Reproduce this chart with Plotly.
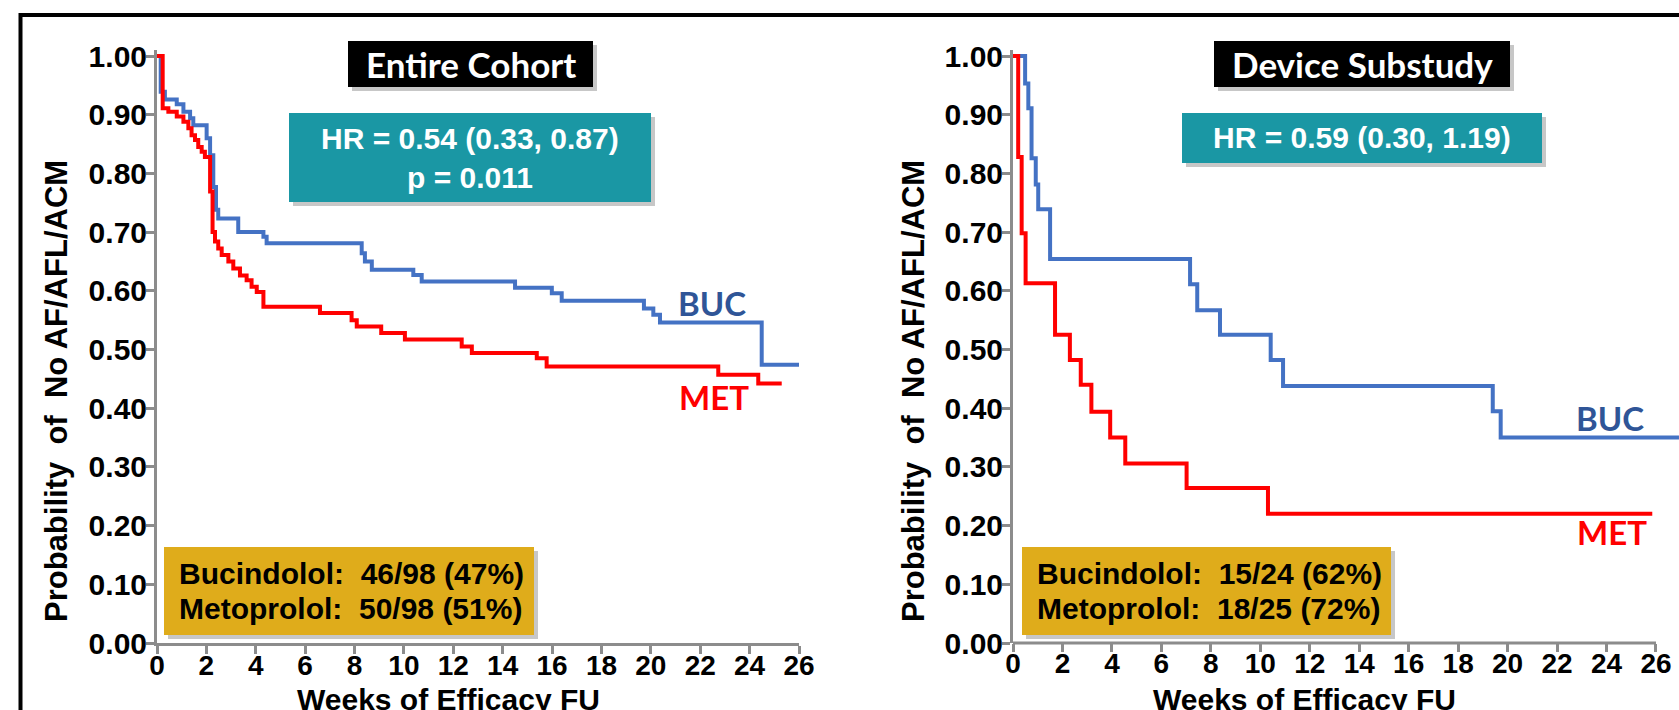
import plotly.graph_objects as go

W, H = 1679, 710

# ---------------- data ----------------
week_ticks = list(range(0, 27, 2))
prob_ticks = [0.0, 0.1, 0.2, 0.3, 0.4, 0.5, 0.6, 0.7, 0.8, 0.9, 1.0]
prob_labels = ["0.00", "0.10", "0.20", "0.30", "0.40", "0.50", "0.60", "0.70", "0.80", "0.90", "1.00"]

# Entire cohort - Bucindolol (BUC)
ec_buc_weeks = [0, 0.15, 0.32, 0.80, 1.07, 1.34, 1.47, 2.01, 2.15, 2.28, 2.39, 2.48, 3.29, 4.31, 4.44,
                8.29, 8.42, 8.70, 10.38, 10.72, 14.50, 15.99, 16.39, 19.72, 20.10, 20.37, 24.49, 26.04]
ec_buc_prob = [1.0, 0.939, 0.926, 0.918, 0.905, 0.894, 0.882, 0.860, 0.831, 0.777, 0.738, 0.723, 0.700, 0.692, 0.681,
               0.664, 0.650, 0.636, 0.627, 0.616, 0.605, 0.596, 0.583, 0.570, 0.559, 0.546, 0.474, 0.474]

# Entire cohort - Metoprolol (MET)
ec_met_weeks = [0, 0.23, 0.46, 0.80, 1.07, 1.27, 1.40, 1.54, 1.67, 1.81, 1.94, 2.15, 2.25, 2.35, 2.48, 2.62,
                2.89, 3.09, 3.36, 3.63, 3.83, 4.04, 4.31, 6.60, 7.88, 8.09, 9.08, 10.04, 12.34, 12.75, 15.38,
                15.78, 22.73, 24.35, 25.30]
ec_met_prob = [1.0, 0.911, 0.905, 0.897, 0.888, 0.877, 0.865, 0.857, 0.845, 0.837, 0.828, 0.769, 0.700, 0.684,
               0.672, 0.661, 0.650, 0.638, 0.626, 0.618, 0.607, 0.598, 0.573, 0.562, 0.550, 0.539, 0.528, 0.517,
               0.505, 0.494, 0.485, 0.471, 0.457, 0.442, 0.442]

# Device substudy - Bucindolol (BUC)
ds_buc_weeks = [0, 0.49, 0.62, 0.75, 0.92, 1.02, 1.50, 7.16, 7.45, 8.37, 10.42, 10.92, 19.40, 19.72, 26.93]
ds_buc_prob = [1.0, 0.953, 0.911, 0.826, 0.781, 0.739, 0.654, 0.611, 0.567, 0.525, 0.482, 0.438, 0.395, 0.350, 0.350]

# Device substudy - Metoprolol (MET)
ds_met_weeks = [0, 0.21, 0.35, 0.51, 1.70, 2.30, 2.74, 3.17, 3.93, 4.54, 7.02, 10.31, 25.85]
ds_met_prob = [1.0, 0.828, 0.698, 0.613, 0.525, 0.482, 0.440, 0.394, 0.350, 0.306, 0.264, 0.220, 0.220]

panel_titles = ["Entire Cohort", "Device Substudy"]
hr_lines = [["HR = 0.54 (0.33, 0.87)", "p = 0.011"], ["HR = 0.59 (0.30, 1.19)"]]
count_lines = [["Bucindolol:\u00a0 46/98 (47%)", "Metoprolol:\u00a0 50/98 (51%)"],
               ["Bucindolol:\u00a0 15/24 (62%)", "Metoprolol:\u00a0 18/25 (72%)"]]
x_title = "Weeks of Efficacy FU"
y_title = "Probability\u00a0 of\u00a0 No AF/AFL/ACM"

# ---------------- style ----------------
BLUE = "#4472c4"
BLUE_TXT = "#2f5597"
RED = "#ff0000"
GRAY = "#8c8c8c"
TEAL = "#1a97a4"
GOLD = "#dfac1b"
ARIAL = "Liberation Sans, Arial, sans-serif"
CAL = "Lato, Carlito, Calibri, sans-serif"


def px(x):
    return x / W


def py(y):
    return 1 - y / H


Y0, PX_PER_UNIT = 643.0, 587.0
YMAX = 1.01
ydom = [py(Y0), py(Y0 - YMAX * PX_PER_UNIT)]
right_x0 = 1013.0
right_px_week = 24.73
right_xmax = (W - right_x0) / right_px_week

fig = go.Figure()
for xs, ys, col, xa, ya in [
    (ec_buc_weeks, ec_buc_prob, BLUE, "x", "y"),
    (ec_met_weeks, ec_met_prob, RED, "x", "y"),
    (ds_buc_weeks, ds_buc_prob, BLUE, "x2", "y2"),
    (ds_met_weeks, ds_met_prob, RED, "x2", "y2"),
]:
    fig.add_trace(go.Scatter(x=xs, y=ys, mode="lines", xaxis=xa, yaxis=ya,
                             line=dict(color=col, width=4, shape="hv"),
                             showlegend=False, hoverinfo="skip"))

axis_common = dict(showgrid=False, zeroline=False, ticks="outside", ticklen=8, tickwidth=3,
                   tickcolor=GRAY, linecolor=GRAY, linewidth=3, automargin=False, fixedrange=True)
tickfont_x = dict(family=ARIAL, size=28, color="black", weight="bold")
tickfont_y = dict(family=ARIAL, size=30, color="black", weight="bold")
x_axis_extra = dict(ticklabelstandoff=-13)
y_axis_extra = dict(ticklabelstandoff=-7)

fig.update_layout(
    template="none",
    width=W, height=H, margin=dict(l=0, r=0, t=0, b=0, pad=0, autoexpand=False),
    paper_bgcolor="white", plot_bgcolor="white",
    xaxis=dict(domain=[px(157), px(799)], range=[0, 26], tickvals=week_ticks, anchor="y",
               showline=True, tickfont=tickfont_x, **axis_common, **x_axis_extra),
    yaxis=dict(domain=ydom, range=[0, YMAX], tickvals=prob_ticks, ticktext=prob_labels, anchor="x",
               showline=True, tickfont=tickfont_y, **axis_common, **y_axis_extra),
    xaxis2=dict(domain=[px(right_x0), 1.0], range=[0, right_xmax], tickvals=week_ticks, anchor="y2",
                showline=False, tickfont=tickfont_x, **axis_common, **x_axis_extra),
    yaxis2=dict(domain=ydom, range=[0, YMAX], tickvals=prob_ticks, ticktext=prob_labels, anchor="x2",
                showline=True, tickfont=tickfont_y, **axis_common, **y_axis_extra),
)

shapes = []
# right x-axis line only up to week 26
shapes.append(dict(type="line", xref="x2", yref="paper", x0=0, x1=week_ticks[-1], y0=ydom[0], y1=ydom[0],
                   line=dict(color=GRAY, width=3), layer="above"))
# slide frame
shapes.append(dict(type="line", xref="paper", yref="paper", x0=px(19), x1=1, y0=py(15), y1=py(15),
                   line=dict(color="black", width=4)))
shapes.append(dict(type="line", xref="paper", yref="paper", x0=px(20.5), x1=px(20.5), y0=py(13), y1=0,
                   line=dict(color="black", width=4)))


def box(x0, y0, x1, y1, color):
    shapes.append(dict(type="rect", xref="paper", yref="paper", x0=px(x0 + 4), x1=px(x1 + 4),
                       y0=py(y1 + 4), y1=py(y0 + 4), fillcolor="rgba(0,0,0,0.22)", line=dict(width=0),
                       layer="above"))
    shapes.append(dict(type="rect", xref="paper", yref="paper", x0=px(x0), x1=px(x1),
                       y0=py(y1), y1=py(y0), fillcolor=color, line=dict(width=0), layer="above"))


annotations = []


def text(x, y, s, size, color, family=ARIAL, xanchor="center", angle=0):
    annotations.append(dict(x=px(x), y=py(y), xref="paper", yref="paper", text=s, showarrow=False,
                            xanchor=xanchor, yanchor="middle", textangle=angle,
                            font=dict(family=family, size=size, color=color, weight="bold")))


# left panel
box(348, 41, 593, 87, "black")
text(470.5, 64, panel_titles[0], 35, "white", CAL)
box(289, 113, 651, 202, TEAL)
text(470, 139, hr_lines[0][0], 30, "white")
text(470, 177, hr_lines[0][1], 30, "white")
box(164, 547, 534, 635, GOLD)
text(177, 573, count_lines[0][0], 30, "black", xanchor="left")
text(177, 608, count_lines[0][1], 30, "black", xanchor="left")
text(712, 303, "BUC", 33, BLUE_TXT, CAL)
text(714, 397, "MET", 33, RED, CAL)
text(56, 391, y_title, 31, "black", angle=-90)
text(448, 699, x_title, 30, "black")

# right panel
box(1214, 41, 1510, 87, "black")
text(1362, 64, panel_titles[1], 35, "white", CAL)
box(1182, 113, 1542, 163, TEAL)
text(1362, 138, hr_lines[1][0], 30, "white")
box(1022, 547, 1391, 635, GOLD)
text(1035, 573, count_lines[1][0], 30, "black", xanchor="left")
text(1035, 608, count_lines[1][1], 30, "black", xanchor="left")
text(1610, 418, "BUC", 33, BLUE_TXT, CAL)
text(1612, 532, "MET", 33, RED, CAL)
text(913, 391, y_title, 31, "black", angle=-90)
text(1304, 699, x_title, 30, "black")

fig.update_layout(shapes=shapes, annotations=annotations)
fig.write_html("out.html", config={"displayModeBar": False, "staticPlot": True},
               post_script="document.body.style.margin='0';document.body.style.overflow='hidden';")
